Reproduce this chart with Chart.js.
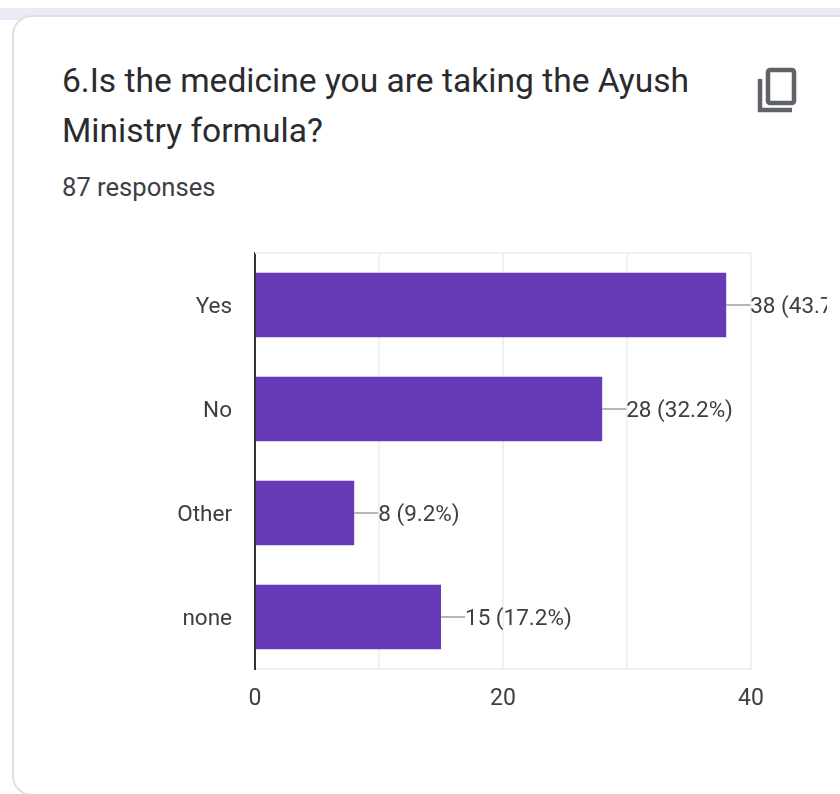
<!DOCTYPE html>
<html>
<head>
<meta charset="utf-8">
<script src="https://cdn.jsdelivr.net/npm/chart.js@4"></script>
<style>
  html, body { margin: 0; padding: 0; background: #fff; overflow: hidden; }
  #page { position: relative; width: 840px; height: 794px; font-family: Roboto, sans-serif; overflow: hidden; }
  #band { position: absolute; left: 0; top: 8px; width: 840px; height: 12px; background: #ede9f6; }
  #card { position: absolute; left: 12px; top: 15px; width: 860px; height: 777px; background: #fff;
          border: 2px solid #dfdfe8; border-radius: 20px; }
  #title { position: absolute; left: 62px; top: 56px; margin: 0; font-size: 33.6px; font-weight: 400;
           line-height: 50px; color: #2a2b2e; white-space: pre; }
  #sub { position: absolute; left: 62px; top: 172px; font-size: 25.6px; line-height: 30px; color: #3c4043; }
  #icon { position: absolute; left: 756px; top: 66px; }
  canvas { position: absolute; left: 0; top: 0; }
</style>
</head>
<body>
<div id="page">
  <div id="band"></div>
  <div id="card"></div>
  <h1 id="title">6.Is the medicine you are taking the Ayush
Ministry formula?</h1>
  <div id="sub">87 responses</div>
  <svg id="icon" width="44" height="48" viewBox="0 0 44 48" fill="none" stroke="#5f6368" stroke-width="4.5">
    <rect x="12" y="4" width="26" height="33" rx="2"/>
    <path d="M4 13 V44 H36"/>
  </svg>
  <canvas id="chart" width="840" height="794"></canvas>
</div>
<script>
// Chart data
const categories = ['Yes', 'No', 'Other', 'none'];
const counts = [38, 28, 8, 15];
const valueLabels = ['38 (43.7%)', '28 (32.2%)', '8 (9.2%)', '15 (17.2%)'];
const labelledTicks = [0, 20, 40];

const textColor = '#3c4043';
const gridColor = '#f1f1f1';

// Leader lines, value labels and the light frame round the plot
const valueLabelPlugin = {
    id: 'valueLabels',
    beforeDraw(chart) {
        // category labels sit a little lower than the canvas middle baseline
        chart.scales.y.getLabelItems().forEach(item => {
            if (!item.shifted) {
                item.options.translation[1] += 2;
                item.shifted = true;
            }
        });
    },
    beforeDatasetsDraw(chart) {
        const { ctx, chartArea } = chart;
        ctx.save();
        ctx.strokeStyle = gridColor;
        ctx.lineWidth = 2;
        ctx.beginPath();
        ctx.moveTo(chartArea.left, chartArea.top);
        ctx.lineTo(chartArea.right, chartArea.top);
        ctx.stroke();
        ctx.restore();
    },
    afterDatasetsDraw(chart) {
        const { ctx } = chart;
        const bars = chart.getDatasetMeta(0).data;
        ctx.save();
        // the reference cuts its first label off here
        ctx.beginPath();
        ctx.rect(0, 0, 827, 794);
        ctx.clip();
        ctx.font = '22.5px Roboto';
        ctx.textBaseline = 'middle';
        bars.forEach((bar, i) => {
            ctx.strokeStyle = '#9e9e9e';
            ctx.lineWidth = 1.5;
            ctx.beginPath();
            ctx.moveTo(bar.x, bar.y);
            ctx.lineTo(bar.x + 24, bar.y);
            ctx.stroke();
            ctx.fillStyle = textColor;
            ctx.fillText(valueLabels[i], bar.x + 24, bar.y + 2);
        });
        ctx.restore();
    }
};

new Chart(document.getElementById('chart'), {
    type: 'bar',
    data: {
        labels: categories,
        datasets: [{
            data: counts,
            backgroundColor: '#673ab7',
            categoryPercentage: 1,
            barPercentage: 0.62
        }]
    },
    options: {
        indexAxis: 'y',
        responsive: false,
        animation: false,
        layout: { padding: { top: 253, right: 89 } },
        plugins: {
            legend: { display: false },
            tooltip: { enabled: false },
            title: { display: false }
        },
        scales: {
            x: {
                min: 0,
                max: 40,
                afterFit(axis) { axis.height = 125; },
                border: { display: true, color: gridColor, width: 2 },
                grid: { color: gridColor, lineWidth: 2, drawTicks: false },
                ticks: {
                    stepSize: 10,
                    maxRotation: 0,
                    autoSkip: false,
                    padding: 16,
                    color: textColor,
                    font: { family: 'Roboto', size: 23 },
                    callback: value => labelledTicks.includes(value) ? value : ''
                }
            },
            y: {
                afterFit(axis) { axis.width = 255; },
                border: { display: true, color: '#333333', width: 2 },
                grid: { display: false, drawTicks: false },
                ticks: {
                    padding: 23,
                    color: textColor,
                    font: { family: 'Roboto', size: 22.5 }
                }
            }
        }
    },
    plugins: [valueLabelPlugin]
});
</script>
</body>
</html>
